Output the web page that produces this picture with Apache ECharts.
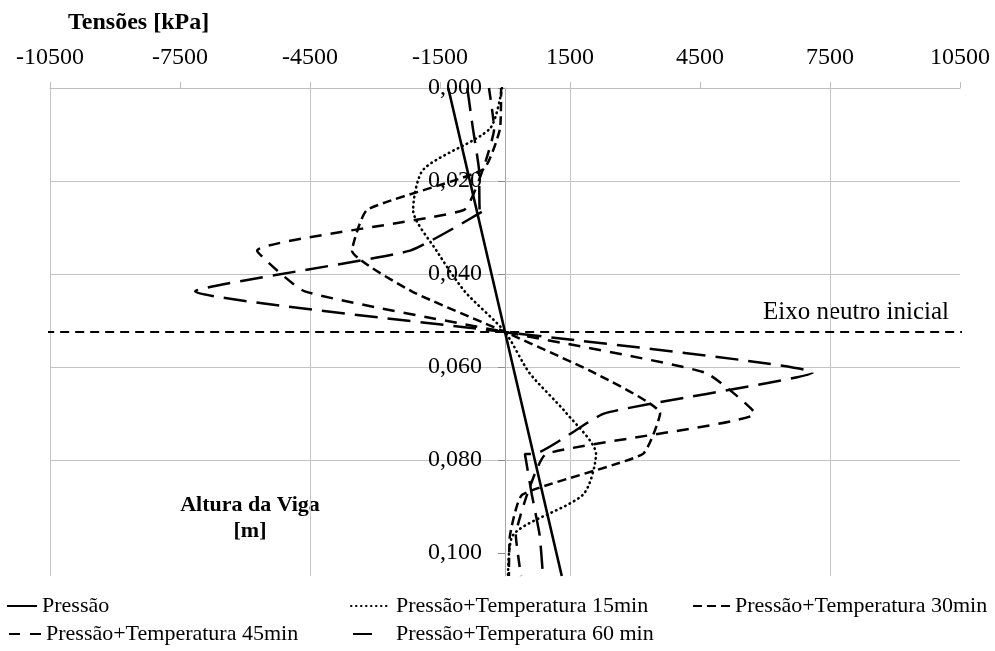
<!DOCTYPE html>
<html>
<head>
<meta charset="utf-8">
<script src="https://cdn.jsdelivr.net/npm/echarts@6/dist/echarts.min.js"></script>
<style>
  html, body { margin: 0; padding: 0; background: #ffffff; }
  #chart { width: 995px; height: 651px; }
</style>
</head>
<body>
<div id="chart"></div>
<script>
// Beam depth of each layer boundary [m], from top fibre to bottom fibre
const depthLayers = [0, 0.00875, 0.0175, 0.02625, 0.035, 0.04375, 0.0525, 0.06125, 0.070, 0.07875, 0.0875, 0.09625, 0.105];

// Pressure only: linear stress profile [kPa]
const pressaoDepth = [0, 0.0525, 0.105];
const pressaoStress = [-1310, 0, 1310];

// Pressure + temperature, stress at each layer boundary [kPa]
const temp15Stress = [-70, -350, -1880, -2120, -1580, -930, 0, 560, 1420, 2100, 1800, 180, 70];
const temp30Stress = [-90, -115, -500, -3185, -3530, -2150, 0, 2050, 3580, 3180, 400, 115, 90];
const temp45Stress = [-370, -250, -510, -950, -5720, -4620, 0, 4620, 5770, 950, 510, 250, 370];

// 60 min profile has a stress jump at two interfaces
const temp60Depth = [0, 0.00875, 0.0175, 0.02625, 0.02625, 0.035, 0.04375, 0.0525, 0.06125, 0.070, 0.07875, 0.07875, 0.0875, 0.09625, 0.105];
const temp60Stress = [-870, -740, -600, -580, -460, -2190, -7150, 0, 7100, 2300, 650, 460, 620, 800, 877];

// Initial neutral axis
const neutralAxisDepth = 0.0525;
const neutralAxisSpan = [-11650, 11200];

// Axis ticks
const stressTicks = [-10500, -7500, -4500, -1500, 1500, 4500, 7500, 10500];
const depthTicks = [0, 0.02, 0.04, 0.06, 0.08, 0.1];

const seriesNames = [
  'Pressão',
  'Pressão+Temperatura 15min',
  'Pressão+Temperatura 30min',
  'Pressão+Temperatura 45min',
  'Pressão+Temperatura 60 min'
];

const FONT = 'Liberation Serif, Times New Roman, serif';
const GRID = { left: 50, right: 35, top: 88, bottom: 75 };
const X_MIN = -10500, X_MAX = 10500;

function pairs(stress, depth) {
  return stress.map(function (s, i) { return [s, depth[i]]; });
}

function profileSeries(name, data, dash, extra) {
  return Object.assign({
    name: name,
    type: 'line',
    data: data,
    symbol: 'none',
    showSymbol: false,
    smooth: 0.15,
    lineStyle: { color: '#000000', width: 2.5, type: dash, cap: 'butt' },
    itemStyle: { color: '#000000' },
    emphasis: { disabled: true },
    z: 3
  }, extra || {});
}

const legendText = { fontFamily: FONT, fontSize: 22, color: '#000000' };

function legendItem(name, left, top, width, lineStyle) {
  return {
    data: [name],
    left: left,
    top: top,
    padding: 0,
    itemWidth: width,
    itemHeight: 14,
    selectedMode: false,
    textStyle: legendText,
    itemStyle: { color: 'rgba(0,0,0,0)', borderWidth: 0, opacity: 0 },
    lineStyle: lineStyle || {}
  };
}

// Depth labels sit beside the vertical axis at zero stress
const plotWidth = 995 - GRID.left - GRID.right;
const zeroOffset = plotWidth * (0 - X_MIN) / (X_MAX - X_MIN);

const chart = echarts.init(document.getElementById('chart'), null, { renderer: 'canvas' });

chart.setOption({
  animation: false,
  backgroundColor: '#ffffff',
  grid: { left: GRID.left, right: GRID.right, top: GRID.top, bottom: GRID.bottom, containLabel: false, outerBoundsMode: 'none' },
  xAxis: {
    type: 'value',
    position: 'top',
    min: X_MIN,
    max: X_MAX,
    interval: 1500,
    axisLine: { show: true, onZero: false, lineStyle: { color: '#bfbfbf', width: 1 } },
    axisTick: { show: true, customValues: stressTicks, length: 6, lineStyle: { color: '#bfbfbf' } },
    axisLabel: {
      customValues: stressTicks,
      formatter: function (v) { return stressTicks.indexOf(v) >= 0 ? String(v) : ''; },
      fontFamily: FONT, fontSize: 24, color: '#000000', margin: 18
    },
    splitLine: { show: true, lineStyle: { color: ['#c4c4c4', 'rgba(0,0,0,0)'], width: 1 } }
  },
  yAxis: {
    type: 'value',
    inverse: true,
    min: 0,
    max: 0.105,
    interval: 0.02,
    axisLine: { show: true, onZero: true, lineStyle: { color: '#a8a8a8', width: 1 } },
    axisTick: { show: true, customValues: depthTicks, length: 7, lineStyle: { color: '#8c8c8c' } },
    axisLabel: {
      customValues: depthTicks,
      formatter: function (v) { return v.toFixed(3).replace('.', ','); },
      fontFamily: FONT, fontSize: 24, color: '#000000', margin: 23 - zeroOffset
    },
    splitLine: { show: true, showMaxLine: false, lineStyle: { color: '#c4c4c4', width: 1 } }
  },
  legend: [
    legendItem(seriesNames[0], 6, 595, 30),
    legendItem(seriesNames[1], 350, 595, 40),
    legendItem(seriesNames[2], 692, 595, 37),
    legendItem(seriesNames[3], 8, 623, 32, { type: [11, 10] }),
    legendItem(seriesNames[4], 352, 623, 38, { type: [19, 40] })
  ],
  graphic: [
    { type: 'text', left: 68, top: 11, style: { text: 'Tensões [kPa]', font: 'bold 24px ' + FONT, fill: '#000000' } },
    { type: 'text', x: 250, y: 505, style: { text: 'Altura da Viga', font: 'bold 22px ' + FONT, fill: '#000000', textAlign: 'center', textVerticalAlign: 'middle' } },
    { type: 'text', x: 250, y: 531, style: { text: '[m]', font: 'bold 22px ' + FONT, fill: '#000000', textAlign: 'center', textVerticalAlign: 'middle' } },
    { type: 'text', x: 763, y: 312, style: { text: 'Eixo neutro inicial', font: '25px ' + FONT, fill: '#000000', textAlign: 'left', textVerticalAlign: 'middle' } }
  ],
  series: [
    profileSeries(seriesNames[0], pairs(pressaoStress, pressaoDepth), 'solid', { smooth: false, lineStyle: { color: '#000000', width: 2.6, type: 'solid' } }),
    profileSeries(seriesNames[1], pairs(temp15Stress, depthLayers), [0.5, 4.5], { smooth: 0.25, lineStyle: { color: '#000000', width: 2.6, type: [0.5, 4.5], cap: 'round' } }),
    profileSeries(seriesNames[2], pairs(temp30Stress, depthLayers), [9, 5]),
    profileSeries(seriesNames[3], pairs(temp45Stress, depthLayers), [12, 9]),
    profileSeries(seriesNames[4], pairs(temp60Stress, temp60Depth), [23, 10]),
    {
      name: 'Eixo neutro inicial',
      type: 'line',
      data: [[neutralAxisSpan[0], neutralAxisDepth], [neutralAxisSpan[1], neutralAxisDepth]],
      symbol: 'none',
      clip: false,
      silent: true,
      lineStyle: { color: '#000000', width: 2.2, type: [9, 6] },
      emphasis: { disabled: true },
      z: 2
    }
  ]
});
</script>
</body>
</html>
